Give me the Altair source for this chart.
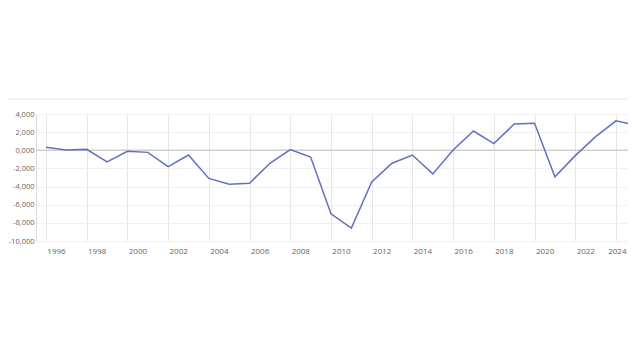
import altair as alt
import pandas as pd

years = list(range(1996, 2026))
values = [0.33, 0.03, 0.10, -1.29, -0.12, -0.23, -1.80, -0.52, -3.10, -3.74,
          -3.63, -1.43, 0.07, -0.74, -7.00, -8.57, -3.48, -1.43, -0.52, -2.60,
          0.03, 2.12, 0.73, 2.89, 2.97, -2.93, -0.59, 1.50, 3.25, 2.75]
x_ticks = list(range(1996, 2025, 2))
y_ticks = [-10, -8, -6, -4, -2, 0, 2, 4]

df = pd.DataFrame({"year": years, "value": values})

W, H = 592, 127

x_scale = alt.Scale(domain=[1995.51, 2024.59], nice=False, zero=False)
y_scale = alt.Scale(domain=[-10, 4], nice=False, zero=False)

y_axis = alt.Axis(values=y_ticks, title=None,
                  labelExpr="(datum.value < 0 ? '-' : '') + replace(format(abs(datum.value), '.3f'), '.', ',')")

zero = alt.Chart(pd.DataFrame({"z": [0]})).mark_rule(color="#d0d0d0", strokeWidth=1.5).encode(
    y=alt.Y("z:Q", scale=y_scale, axis=y_axis)
)

line = alt.Chart(df).mark_line(color="#6370c2", strokeWidth=1.5).encode(
    x=alt.X("year:Q", scale=x_scale,
            axis=alt.Axis(values=x_ticks, format="d", title=None,
                          labelAlign={"condition": {"test": "datum.value == 2024", "value": "right"},
                                      "value": "center"})),
    y=alt.Y("value:Q", scale=y_scale, axis=y_axis),
)

sep = alt.Chart(pd.DataFrame({"s": [0]})).mark_rule(color="#e8e8e8", strokeWidth=1).encode(
    x=alt.value(-40), x2=alt.value(W), y=alt.value(-15)
)

chart = alt.layer(zero, line, sep).properties(
    width=W, height=H,
    autosize=alt.AutoSizeParams(type="none"),
    padding={"left": 28, "top": 106, "right": 0, "bottom": 30},
).configure_view(
    stroke=None
).configure_axisX(
    grid=True, gridColor="#e6e6e6", domain=False, ticks=False,
    labelOverlap=False, labelFlush=False, labelOffset=10, labelPadding=6,
    labelFontSize=8, labelColor="#666666", labelFont="Open Sans"
).configure_axisY(
    grid=True, gridColor="#f0f0f0", domain=True, domainColor="#dddddd",
    ticks=False, labelPadding=2, labelFontSize=7.5, labelOverlap=False,
    labelFlush=False, labelColor="#666666", labelFont="Open Sans"
)

chart.save("out.html", embed_options={"renderer": "svg", "actions": False})
